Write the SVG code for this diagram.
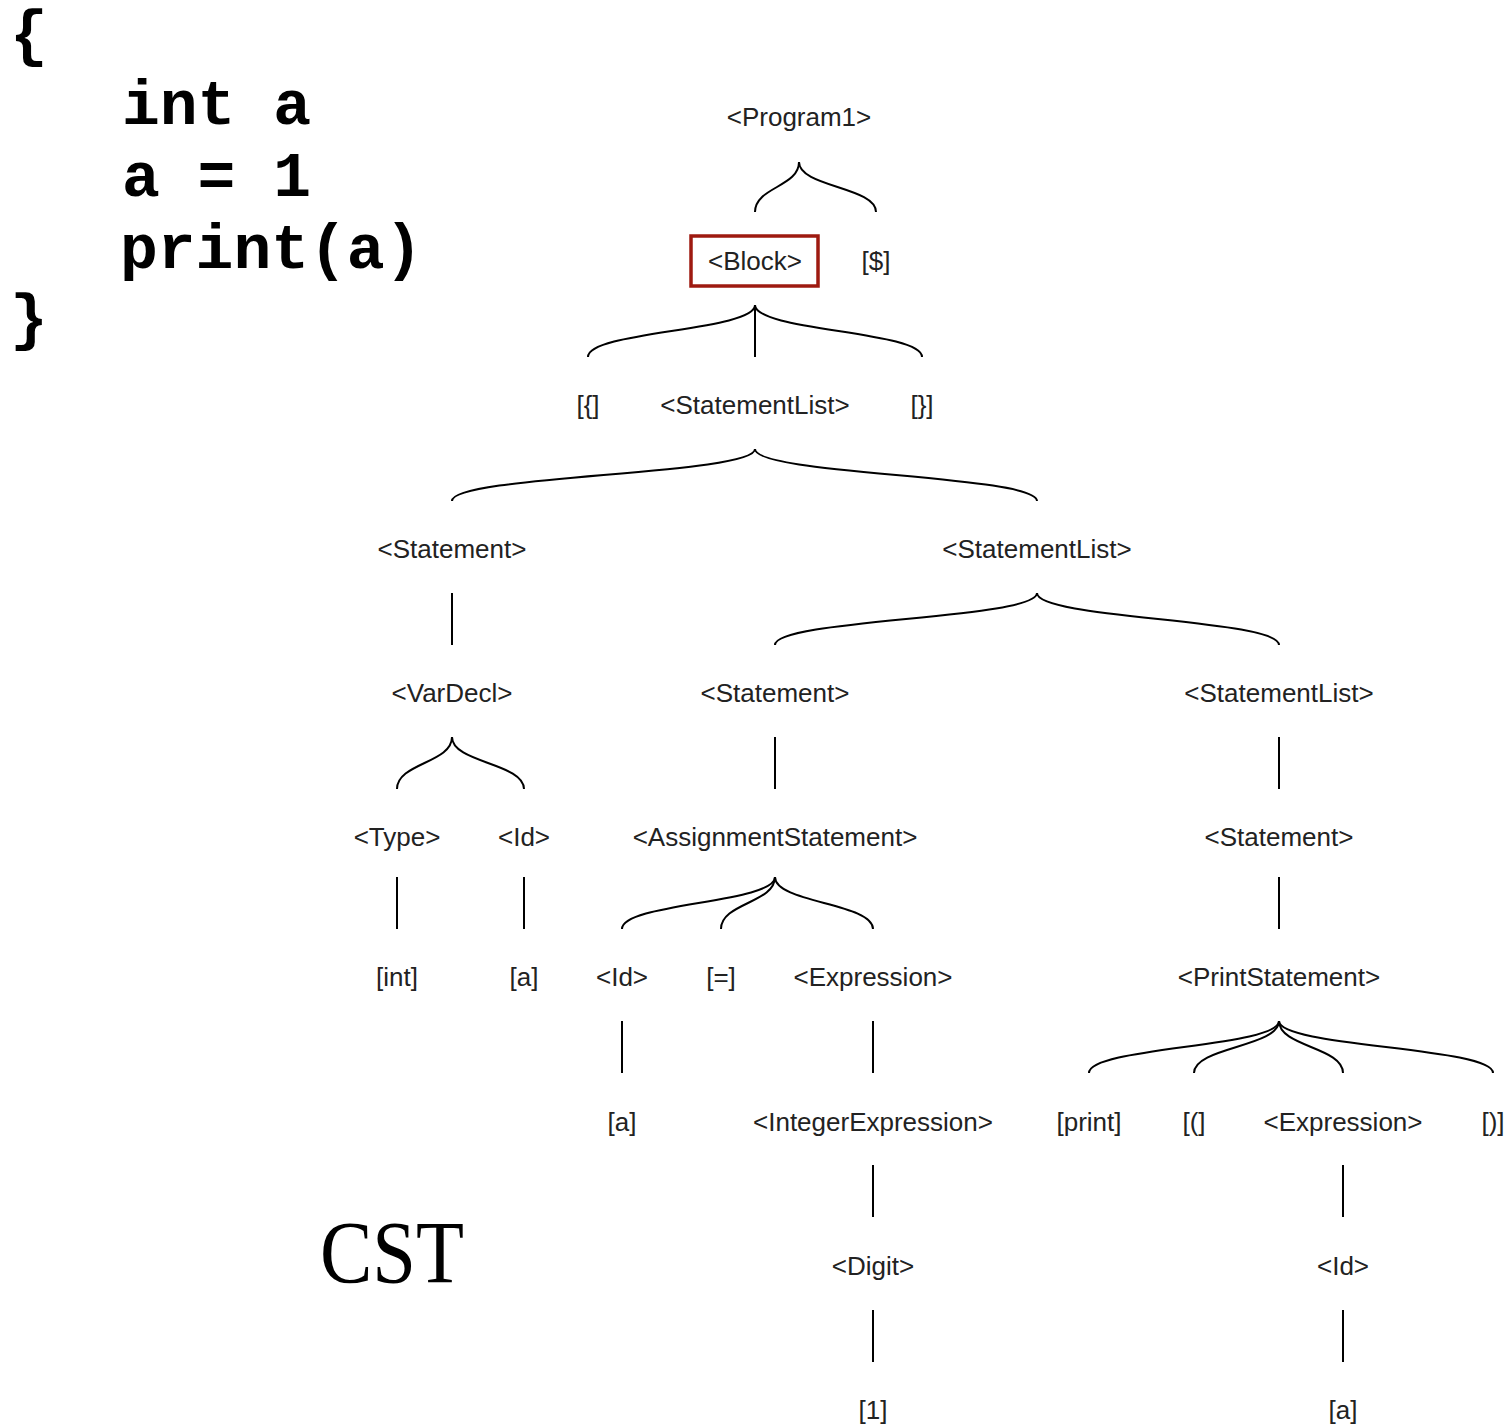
<svg xmlns="http://www.w3.org/2000/svg" width="1509" height="1424" viewBox="0 0 1509 1424">
<style>
.n{font-family:"Liberation Sans",Arial,sans-serif;font-size:26px;fill:#222;text-anchor:middle}
.c{font-family:"Liberation Mono","Courier New",monospace;font-weight:bold;font-size:63px;fill:#000}
.e{fill:none;stroke:#000;stroke-width:2}
</style>
<rect width="1509" height="1424" fill="#fff"/>
<g id="code">
<text class="c" x="10" y="54">{</text>
<text class="c" x="122" y="124">int a</text>
<text class="c" x="122" y="196">a = 1</text>
<text class="c" x="120" y="268">print(a)</text>
<text class="c" x="10" y="338">}</text>
</g>
<text id="cst" x="320" y="1282" font-family="'Liberation Serif','Times New Roman',serif" font-size="88" textLength="144" lengthAdjust="spacingAndGlyphs" fill="#000">CST</text>
<g id="connectors">
<path class="e" d="M799,162 C799,187 755,187 755,212"/>
<path class="e" d="M799,162 C799,187 876,187 876,212"/>
<path class="e" d="M755,305 C755,331 588,331 588,357"/>
<path class="e" d="M755,305 L755,357"/>
<path class="e" d="M755,305 C755,331 922,331 922,357"/>
<path class="e" d="M755,449 C755,475 452,475 452,501"/>
<path class="e" d="M755,449 C755,475 1037,475 1037,501"/>
<path class="e" d="M452,593 L452,645"/>
<path class="e" d="M1037,593 C1037,619 775,619 775,645"/>
<path class="e" d="M1037,593 C1037,619 1279,619 1279,645"/>
<path class="e" d="M452,737 C452,763 397,763 397,789"/>
<path class="e" d="M452,737 C452,763 524,763 524,789"/>
<path class="e" d="M775,737 L775,789"/>
<path class="e" d="M1279,737 L1279,789"/>
<path class="e" d="M397,877 L397,929"/>
<path class="e" d="M524,877 L524,929"/>
<path class="e" d="M775,877 C775,903 622,903 622,929"/>
<path class="e" d="M775,877 C775,903 721,903 721,929"/>
<path class="e" d="M775,877 C775,903 873,903 873,929"/>
<path class="e" d="M1279,877 L1279,929"/>
<path class="e" d="M622,1021 L622,1073"/>
<path class="e" d="M873,1021 L873,1073"/>
<path class="e" d="M1279,1021 C1279,1047 1089,1047 1089,1073"/>
<path class="e" d="M1279,1021 C1279,1047 1194,1047 1194,1073"/>
<path class="e" d="M1279,1021 C1279,1047 1343,1047 1343,1073"/>
<path class="e" d="M1279,1021 C1279,1047 1493,1047 1493,1073"/>
<path class="e" d="M873,1165 L873,1217"/>
<path class="e" d="M1343,1165 L1343,1217"/>
<path class="e" d="M873,1310 L873,1362"/>
<path class="e" d="M1343,1310 L1343,1362"/>
</g>
<g id="program1"><text class="n" x="799" y="126">&lt;Program1&gt;</text></g>
<g id="block"><rect x="691" y="236" width="127" height="50" fill="none" stroke="#9e1a10" stroke-width="3.5"/><text class="n" x="755" y="270">&lt;Block&gt;</text></g>
<g id="eof"><text class="n" x="876" y="270">[$]</text></g>
<g id="lbrace"><text class="n" x="588" y="414">[{]</text></g>
<g id="stmtlist1"><text class="n" x="755" y="414">&lt;StatementList&gt;</text></g>
<g id="rbrace"><text class="n" x="922" y="414">[}]</text></g>
<g id="stmt1"><text class="n" x="452" y="558">&lt;Statement&gt;</text></g>
<g id="stmtlist2"><text class="n" x="1037" y="558">&lt;StatementList&gt;</text></g>
<g id="vardecl"><text class="n" x="452" y="702">&lt;VarDecl&gt;</text></g>
<g id="stmt2"><text class="n" x="775" y="702">&lt;Statement&gt;</text></g>
<g id="stmtlist3"><text class="n" x="1279" y="702">&lt;StatementList&gt;</text></g>
<g id="type"><text class="n" x="397" y="846">&lt;Type&gt;</text></g>
<g id="id1"><text class="n" x="524" y="846">&lt;Id&gt;</text></g>
<g id="assign"><text class="n" x="775" y="846">&lt;AssignmentStatement&gt;</text></g>
<g id="stmt3"><text class="n" x="1279" y="846">&lt;Statement&gt;</text></g>
<g id="int"><text class="n" x="397" y="986">[int]</text></g>
<g id="a1"><text class="n" x="524" y="986">[a]</text></g>
<g id="id2"><text class="n" x="622" y="986">&lt;Id&gt;</text></g>
<g id="eq"><text class="n" x="721" y="986">[=]</text></g>
<g id="expr1"><text class="n" x="873" y="986">&lt;Expression&gt;</text></g>
<g id="printstmt"><text class="n" x="1279" y="986">&lt;PrintStatement&gt;</text></g>
<g id="a2"><text class="n" x="622" y="1131">[a]</text></g>
<g id="intexpr"><text class="n" x="873" y="1131">&lt;IntegerExpression&gt;</text></g>
<g id="print"><text class="n" x="1089" y="1131">[print]</text></g>
<g id="lparen"><text class="n" x="1194" y="1131">[(]</text></g>
<g id="expr2"><text class="n" x="1343" y="1131">&lt;Expression&gt;</text></g>
<g id="rparen"><text class="n" x="1493" y="1131">[)]</text></g>
<g id="digit"><text class="n" x="873" y="1275">&lt;Digit&gt;</text></g>
<g id="id3"><text class="n" x="1343" y="1275">&lt;Id&gt;</text></g>
<g id="one"><text class="n" x="873" y="1419">[1]</text></g>
<g id="a3"><text class="n" x="1343" y="1419">[a]</text></g>
</svg>
